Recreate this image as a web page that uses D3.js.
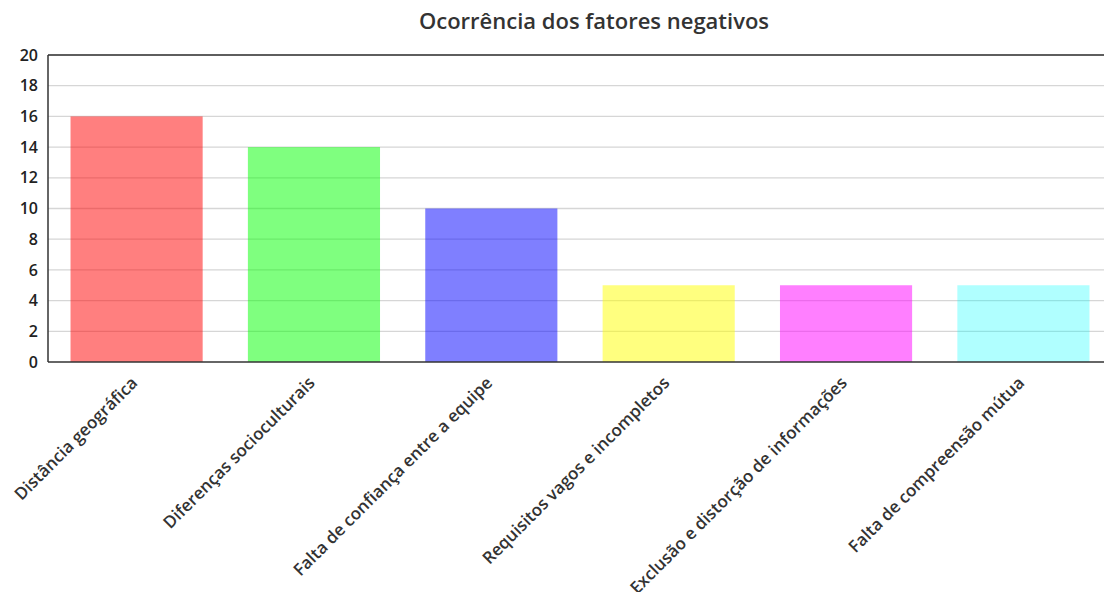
<!DOCTYPE html>
<html><head><meta charset="utf-8">
<script src="https://cdn.jsdelivr.net/npm/d3@7"></script>
<style>
body{margin:0;background:#fff;}
text{font-family:"Open Sans",sans-serif;}
</style></head>
<body><svg id="c" width="1104" height="592"></svg>
<script>
const categories = ["Distância geográfica","Diferenças socioculturais","Falta de confiança entre a equipe","Requisitos vagos e incompletos","Exclusão e distorção de informações","Falta de compreensão mútua"];
const values = [16,14,10,5,5,5];
const colors = ["rgba(255,0,0,0.5)","rgba(0,255,0,0.5)","rgba(0,0,255,0.5)","rgba(255,255,0,0.5)","rgba(255,0,255,0.5)","rgba(0,255,255,0.31)"];
const yTicks = [0,2,4,6,8,10,12,14,16,18,20];
const title = "Ocorrência dos fatores negativos";

const svg = d3.select("#c");
const m = {left:48, top:55, bottom:362, right:1112};
const x = d3.scaleBand().domain(categories).range([m.left, m.right]).paddingInner(0.255).paddingOuter(0.127);
const y = d3.scaleLinear().domain([0,20]).range([m.bottom, m.top]);

// gridlines
svg.append("g").selectAll("line").data(yTicks.slice(1)).join("line")
  .attr("x1", m.left).attr("x2", m.right)
  .attr("y1", d=>y(d)).attr("y2", d=>y(d))
  .attr("stroke", "#d6d6d6").attr("stroke-width", 1.3);

// bars
svg.append("g").selectAll("rect").data(values).join("rect")
  .attr("x", (d,i)=>x(categories[i]))
  .attr("width", x.bandwidth())
  .attr("y", d=>y(d))
  .attr("height", d=>y(0)-y(d))
  .attr("fill", (d,i)=>colors[i]);

// frame: top, left, bottom
svg.append("line").attr("x1",m.left).attr("x2",m.right).attr("y1",y(20)).attr("y2",y(20)).attr("stroke","#333").attr("stroke-width",1.5);
svg.append("line").attr("x1",m.left).attr("x2",m.left).attr("y1",y(20)).attr("y2",y(0)).attr("stroke","#333").attr("stroke-width",1.5);
svg.append("line").attr("x1",m.left).attr("x2",m.right).attr("y1",y(0)).attr("y2",y(0)).attr("stroke","#333").attr("stroke-width",1.5);

// y axis labels
const yAxis = d3.axisLeft(y).tickValues(yTicks).tickSize(0).tickPadding(10);
const yg = svg.append("g").attr("transform",`translate(${m.left},0)`).call(yAxis);
yg.select(".domain").remove();
yg.selectAll("text").attr("font-size",16).attr("font-weight",600).attr("fill","#222").attr("font-family","Open Sans, sans-serif");

// x labels
const xAxis = d3.axisBottom(x).tickSize(0).tickPadding(0);
const xg = svg.append("g").attr("transform",`translate(0,${m.bottom})`).call(xAxis);
xg.select(".domain").remove();
xg.selectAll("text")
  .attr("font-size",17).attr("font-weight",600).attr("fill","#333").attr("font-family","Open Sans, sans-serif")
  .attr("text-anchor","end").attr("dy",null).attr("y",0)
  .attr("transform","translate(2,22) rotate(-45)");

// title
svg.append("text").attr("x",594).attr("y",29).attr("text-anchor","middle")
  .attr("font-size",22).attr("font-weight",600).attr("fill","#333").text(title);
</script></body></html>
